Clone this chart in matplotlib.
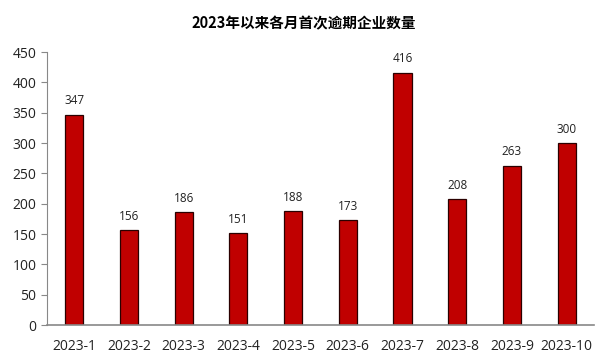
import matplotlib
matplotlib.use("Agg")
import matplotlib.pyplot as plt

categories = ["2023-1", "2023-2", "2023-3", "2023-4", "2023-5", "2023-6", "2023-7", "2023-8", "2023-9", "2023-10"]
values = [347, 156, 186, 151, 188, 173, 416, 208, 263, 300]
yticks = [0, 50, 100, 150, 200, 250, 300, 350, 400, 450]
title = "2023年以来各月首次逾期企业数量"

plt.rcParams['font.family'] = ['Open Sans', 'Noto Sans CJK SC', 'DejaVu Sans']

fig = plt.figure(figsize=(6.08, 3.61), dpi=100)
ax = fig.add_axes([0.077, 0.0997, 0.9, 0.756])
x = list(range(len(categories)))
bars = ax.bar(x, values, width=0.33, color="#C00000", edgecolor="#2a0000", linewidth=0.9)
for xi, v in zip(x, values):
    ax.text(xi, v + 12, str(v), ha="center", va="bottom", fontsize=8.5, color="#222222")
ax.set_xlim(-0.5, len(categories) - 0.5)
ax.set_ylim(0, 450)
ax.set_yticks(yticks)
ax.set_xticks(x)
ax.set_xticklabels(categories)
ax.tick_params(axis="x", length=0, labelsize=10, pad=10, colors="#222222")
ax.tick_params(axis="y", length=4, direction="out", labelsize=10, colors="#222222", color="#888888")
for s in ["top", "right"]:
    ax.spines[s].set_visible(False)
ax.spines["left"].set_color("#888888")
ax.spines["bottom"].set_color("#888888")
ax.spines["bottom"].set_linewidth(1.2)
fig.text(0.5, 0.935, title, ha="center", va="center", fontsize=10.5, fontweight="bold",
         family=['Noto Sans CJK SC', 'DejaVu Sans'])
fig.savefig("out.png", dpi=100)
